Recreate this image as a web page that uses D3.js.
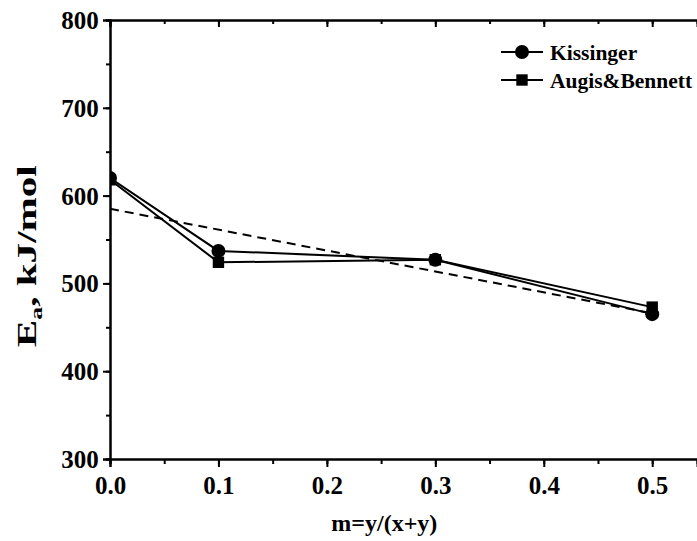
<!DOCTYPE html>
<html>
<head>
<meta charset="UTF-8">
<script src="https://cdnjs.cloudflare.com/ajax/libs/d3/7.8.5/d3.min.js"></script>
<style>
  body { margin: 0; background: #fff; }
  text { font-family: "Liberation Serif", "Times New Roman", serif; font-weight: bold; fill: #000; }
</style>
</head>
<body>
<script>
// data
var mValues = [0.0, 0.1, 0.3, 0.5];
var kissinger = [620, 537, 527, 465];
var augisBennett = [618, 524, 527, 473];
var fitX = [0.0, 0.5];
var fitY = [585, 466];
var xTicks = [0.0, 0.1, 0.2, 0.3, 0.4, 0.5];
var yTicks = [300, 400, 500, 600, 700, 800];

var W = 697, H = 541;
var margin = {top: 20, right: 0, bottom: 82, left: 110};

var svg = d3.select("body").append("svg")
    .attr("width", W).attr("height", H);

// x domain runs past the window edge (right frame is cut off)
var x = d3.scaleLinear().domain([0, 0.5413]).range([margin.left, W]);
var y = d3.scaleLinear().domain([300, 800]).range([H - margin.bottom, margin.top]);

svg.append("clipPath").attr("id", "plot")
  .append("rect")
    .attr("x", margin.left).attr("y", margin.top)
    .attr("width", W - margin.left).attr("height", H - margin.bottom - margin.top);

var plot = svg.append("g").attr("clip-path", "url(#plot)");

// dashed linear fit
plot.append("path")
    .datum(d3.zip(fitX, fitY))
    .attr("d", d3.line().x(function(d) { return x(d[0]); }).y(function(d) { return y(d[1]); }))
    .attr("fill", "none").attr("stroke", "#000")
    .attr("stroke-width", 2).attr("stroke-dasharray", "9,6");

var line = d3.line()
    .x(function(d) { return x(d[0]); })
    .y(function(d) { return y(d[1]); });

plot.append("path")
    .datum(d3.zip(mValues, kissinger))
    .attr("d", line).attr("fill", "none").attr("stroke", "#000").attr("stroke-width", 2);

plot.append("path")
    .datum(d3.zip(mValues, augisBennett))
    .attr("d", line).attr("fill", "none").attr("stroke", "#000").attr("stroke-width", 2);

var sq = d3.symbol().type(d3.symbolSquare).size(130);
plot.selectAll(".sq").data(d3.zip(mValues, augisBennett)).enter()
  .append("path").attr("class", "sq")
    .attr("d", sq)
    .attr("transform", function(d) { return "translate(" + x(d[0]) + "," + y(d[1]) + ")"; });

plot.selectAll(".ci").data(d3.zip(mValues, kissinger)).enter()
  .append("circle").attr("class", "ci")
    .attr("cx", function(d) { return x(d[0]); })
    .attr("cy", function(d) { return y(d[1]); })
    .attr("r", 7);

// axes
var minorX = d3.range(0, 0.56, 0.05);
var minorY = d3.range(300, 801, 50);

var gx = svg.append("g").attr("transform", "translate(0," + y(300) + ")");
gx.call(d3.axisBottom(x).tickValues(minorX).tickSize(5).tickFormat(""));
gx.append("g").call(d3.axisBottom(x).tickValues(xTicks).tickSize(8).tickFormat(d3.format(".1f")));

var gtop = svg.append("g").attr("transform", "translate(0," + y(800) + ")");
gtop.call(d3.axisBottom(x).tickValues(minorX).tickSize(4).tickFormat(""));
gtop.append("g").call(d3.axisBottom(x).tickValues(xTicks).tickSize(7).tickFormat(""));

var gy = svg.append("g").attr("transform", "translate(" + x(0) + ",0)");
gy.call(d3.axisLeft(y).tickValues(minorY).tickSize(4).tickFormat(""));
gy.append("g").call(d3.axisLeft(y).tickValues(yTicks).tickSize(7).tickFormat(d3.format("d")));

svg.selectAll(".domain").attr("stroke-width", 2).attr("stroke", "#000");
svg.selectAll(".tick line").attr("stroke-width", 2).attr("stroke", "#000");
svg.selectAll(".tick text")
    .attr("font-family", "Liberation Serif").attr("font-weight", "bold")
    .attr("font-size", 25).attr("fill", "#000");
gx.selectAll(".tick text").attr("dy", "0.95em");
gy.selectAll(".tick text").attr("dx", "-0.05em").attr("dy", "0.34em");

// axis titles
svg.append("text")
    .attr("x", x(0.253)).attr("y", 531)
    .attr("text-anchor", "middle").attr("font-size", 24)
    .text("m=y/(x+y)");

// y title is drawn stretched along its length in the reference
var yt = svg.append("text")
    .attr("text-anchor", "middle").attr("font-size", 27);
yt.append("tspan").text("E");
yt.append("tspan").attr("font-size", 17).attr("dy", 6).text("a");
yt.append("tspan").attr("dy", -6).text(", kJ/mol");
var len = yt.node().getComputedTextLength();
yt.attr("transform", "translate(36," + y(531) + ") rotate(-90) scale(" + (182 / len) + ",1)");

// legend
var legend = [
  {name: "Kissinger", shape: "circle", y: 52},
  {name: "Augis&Bennett", shape: "square", y: 80}
];
legend.forEach(function(l) {
  svg.append("line").attr("x1", 501).attr("x2", 543)
      .attr("y1", l.y).attr("y2", l.y)
      .attr("stroke", "#000").attr("stroke-width", 2);
  if (l.shape === "circle") {
    svg.append("circle").attr("cx", 522).attr("cy", l.y).attr("r", 7);
  } else {
    svg.append("path").attr("d", sq).attr("transform", "translate(522," + l.y + ")");
  }
  svg.append("text").attr("x", 550).attr("y", l.y + 8)
      .attr("font-size", 21.5).text(l.name);
});
</script>
</body>
</html>
